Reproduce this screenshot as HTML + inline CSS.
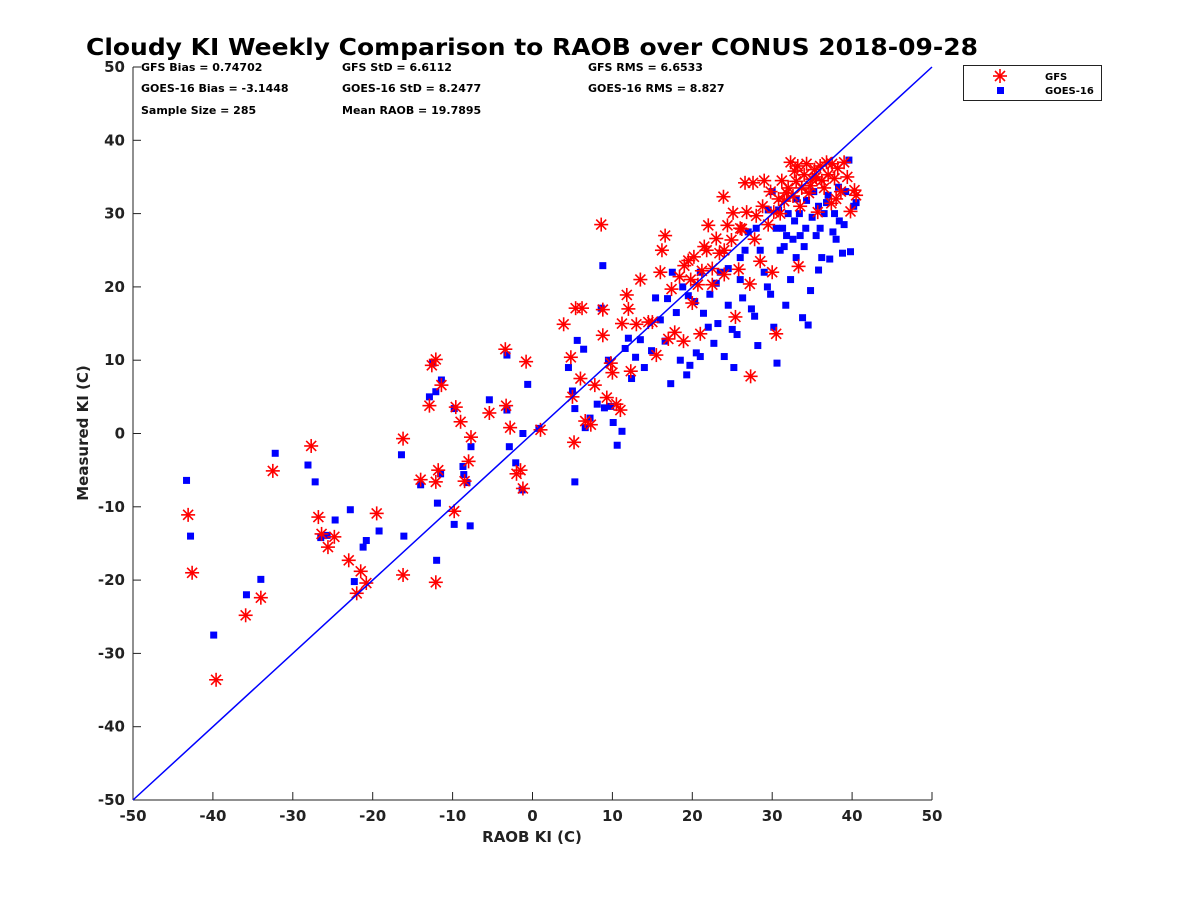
<!DOCTYPE html>
<html><head><meta charset="utf-8"><style>
body{margin:0;background:#fff}
svg{display:block;font-family:"DejaVu Sans","Liberation Sans",sans-serif}
</style></head><body>
<svg id="chart" width="1200" height="900" viewBox="0 0 1200 900">
<rect width="1200" height="900" fill="#fff"/>
<text x="532" y="55" font-size="23.5" font-weight="bold" text-anchor="middle" textLength="892" lengthAdjust="spacingAndGlyphs">Cloudy KI Weekly Comparison to RAOB over CONUS 2018-09-28</text>
<g font-size="11" font-weight="bold">
<text x="141" y="71">GFS Bias = 0.74702</text><text x="342" y="71">GFS StD = 6.6112</text><text x="588" y="71">GFS RMS = 6.6533</text>
<text x="141" y="92">GOES-16 Bias = -3.1448</text><text x="342" y="92">GOES-16 StD = 8.2477</text><text x="588" y="92">GOES-16 RMS = 8.827</text>
<text x="141" y="114">Sample Size = 285</text><text x="342" y="114">Mean RAOB = 19.7895</text>
</g>
<g id="axes"></g>
<g id="marks"></g>
<g>
<rect x="963.5" y="65.5" width="138" height="35" fill="#fff" stroke="#222"/>
<g stroke="red" stroke-width="1.6"><line x1="1000" y1="69" x2="1000" y2="83"/><line x1="993" y1="76" x2="1007" y2="76"/><line x1="995" y1="71" x2="1005" y2="81"/><line x1="995" y1="81" x2="1005" y2="71"/></g>
<rect x="997" y="87" width="7" height="7" fill="#00f"/>
<text x="1045" y="80" font-size="10" font-weight="bold">GFS</text>
<text x="1045" y="94" font-size="10" font-weight="bold">GOES-16</text>
</g>
</svg>
<script>
const xTicks=[-50,-40,-30,-20,-10,0,10,20,30,40,50];
const yTicks=[-50,-40,-30,-20,-10,0,10,20,30,40,50];
const gfs=[[-43.1,-11.1],[-42.6,-19],[-39.6,-33.6],[-35.9,-24.8],[-34,-22.4],[-32.5,-5.1],[-27.7,-1.7],[-26.8,-11.4],[-26.4,-13.7],[-25.6,-15.5],[-24.8,-14.1],[-23,-17.3],[-22,-21.8],[-21.5,-18.8],[-20.8,-20.4],[-19.5,-10.9],[-16.2,-19.3],[-16.2,-0.7],[-14,-6.3],[-12.6,9.3],[-12.1,10.1],[-12.9,3.8],[-12.1,-6.6],[-11.8,-5],[-12.1,-20.3],[-11.4,6.6],[-9.8,-10.6],[-9.6,3.6],[-9,1.6],[-8.5,-6.5],[-8,-3.8],[-7.7,-0.5],[-5.4,2.8],[-3.4,11.5],[-3.3,3.8],[-2.8,0.8],[-2,-5.5],[-1.5,-5],[-1.2,-7.5],[-0.8,9.8],[1,0.5],[3.9,14.9],[4.8,10.4],[5,5],[5.2,-1.2],[5.4,17.1],[6,7.5],[6.2,17.1],[6.6,1.7],[7.3,1.2],[7.8,6.6],[8.6,28.5],[8.8,13.4],[8.8,16.9],[9.3,4.9],[9.8,9.6],[10,8.3],[10.5,4],[11,3.2],[11.2,15],[11.8,18.9],[12,17],[12.3,8.5],[13,14.9],[13.5,21],[14.5,15.2],[15,15.2],[15.5,10.7],[16,22],[16.2,25],[16.6,27],[17,12.9],[17.4,19.7],[17.8,13.8],[18.4,21.4],[18.9,12.6],[19,22.9],[19.5,23.6],[20,17.8],[20.2,24.1],[20.7,20.3],[21,13.6],[21.2,22.2],[21.8,25],[22,28.4],[22.5,20.3],[23,26.6],[23.4,24.6],[23.9,32.3],[24,21.7],[24.4,28.4],[24.9,26.4],[25.1,30.1],[25.4,15.9],[25.8,22.4],[26.2,27.9],[26.6,34.2],[26.8,30.2],[27.2,20.4],[27.3,7.8],[27.6,34.2],[28,29.7],[28.5,23.5],[29,34.5],[29.5,28.5],[30,22],[30.5,13.6],[31,30],[31.5,31.7],[32,33.5],[32.3,37],[32.6,32.4],[33,34.4],[33.3,22.8],[33.7,33.5],[34,35.3],[34.3,36.8],[34.6,32.8],[35,34.7],[35.3,36],[35.7,30.2],[36,36.5],[36.5,33.5],[37,35.3],[37.4,31.4],[37.8,34.8],[38.2,36.2],[38.6,33],[39,37],[39.4,35],[39.8,30.3],[40.3,33.2],[40.5,32.5],[30.8,32],[31.2,34.5],[33.5,31],[35.5,35],[36.8,37],[38,32],[28.8,31],[29.8,33],[26,28],[24,25],[22.5,22.5],[21.5,25.5],[19.8,21],[27.8,26.5],[30.2,30.2],[32.8,35.8],[34.8,33.8],[36.2,34.5],[37.5,36.8],[31.8,32.8],[33.2,36.5]];
const goes=[[-43.3,-6.4],[-42.8,-14],[-39.9,-27.5],[-35.8,-22],[-34,-19.9],[-32.2,-2.7],[-28.1,-4.3],[-27.2,-6.6],[-26.5,-14.2],[-25.7,-13.9],[-24.7,-11.8],[-22.8,-10.4],[-22.3,-20.2],[-21.2,-15.5],[-20.8,-14.6],[-19.2,-13.3],[-16.4,-2.9],[-16.1,-14],[-14,-7],[-12.9,5],[-12.5,9.6],[-12.1,5.7],[-11.9,-9.5],[-12,-17.3],[-11.4,7.3],[-11.5,-5.5],[-9.8,-12.4],[-9.8,3.4],[-8.7,-4.5],[-8.6,-5.6],[-8.2,-6.7],[-7.8,-12.6],[-7.7,-1.8],[-5.4,4.6],[-3.2,10.7],[-3.2,3.2],[-2.9,-1.8],[-2.1,-4],[-1.3,-7.7],[-1.2,0],[-0.6,6.7],[0.8,0.7],[4.5,9],[5,5.8],[5.3,3.4],[5.3,-6.6],[5.6,12.7],[6.4,11.5],[6.6,0.8],[7.2,2.1],[8.1,4],[8.6,17.1],[8.8,22.9],[9,3.5],[9.5,10],[9.8,3.7],[10.1,1.5],[10.6,-1.6],[11.2,0.3],[11.6,11.6],[12,13],[12.4,7.5],[12.9,10.4],[13.5,12.8],[14,9],[14.9,11.3],[15.4,18.5],[16,15.5],[16.6,12.6],[16.9,18.4],[17.3,6.8],[17.5,22],[18,16.5],[18.5,10],[18.8,20],[19.3,8],[19.7,9.3],[20.3,18],[20.5,11],[21,10.5],[21.4,16.4],[22,14.5],[22.2,19],[22.7,12.3],[23.2,15],[23.5,22],[24,10.5],[24.5,17.5],[25,14.2],[25.2,9],[25.6,13.5],[26,21],[26.3,18.5],[26.6,25],[27,27.5],[27.4,17],[27.8,16],[28.2,12],[28.5,25],[29,22],[29.4,20],[29.8,19],[30,33],[30.2,14.5],[30.6,9.6],[31,25],[31.3,28],[31.7,17.5],[32,30],[32.3,21],[32.6,26.5],[33,24],[33.4,30],[33.8,15.8],[34.2,28],[34.5,14.8],[34.8,19.5],[35.2,33],[35.5,27],[35.8,22.3],[36.2,24],[36.5,30],[36.8,31.5],[37.2,23.8],[37.6,27.5],[38,26.5],[38.4,29],[38.8,24.6],[39.2,33],[39.6,37.3],[39.8,24.8],[40.2,31],[40.5,31.5],[30.5,28],[31.5,25.5],[32.8,29],[33.5,27],[34.3,31.8],[35,29.5],[36,28],[37,32.5],[38.3,33.6],[29.5,30.5],[28,28],[26,24],[24.5,22.5],[23,20.5],[21,22],[19.5,18.8],[30.8,30.5],[31.8,27],[33,32],[34,25.5],[35.8,31],[37.8,30],[39,28.5]];
const NS='http://www.w3.org/2000/svg';
const X0=133,X1=932,Y0=800,Y1=67;
function sx(v){return X0+(v+50)/100*(X1-X0);}
function sy(v){return Y0-(v+50)/100*(Y0-Y1);}
function mk(tag,attrs,parent){const e=document.createElementNS(NS,tag);for(const k in attrs)e.setAttribute(k,attrs[k]);parent.appendChild(e);return e;}
const axes=document.getElementById('axes'),marks=document.getElementById('marks');
const xa=mk('line',{x1:X0,y1:Y0,x2:X1,y2:Y0,stroke:'#222','stroke-width':1},axes);


const ya=mk('line',{x1:X0,y1:Y0,x2:X0,y2:Y1,stroke:'#222','stroke-width':1},axes);


xTicks.forEach(t=>{
  mk('line',{x1:sx(t),y1:Y0,x2:sx(t),y2:Y0-8,stroke:'#222'},axes);
  const tx=mk('text',{x:sx(t),y:Y0+21,'font-size':15,'font-weight':'bold','text-anchor':'middle',fill:'#222'},axes);
  tx.textContent=t;
  
  
});
yTicks.forEach(t=>{
  mk('line',{x1:X0,y1:sy(t),x2:X0+8,y2:sy(t),stroke:'#222'},axes);
  const tx=mk('text',{x:X0-8,y:sy(t)+5,'font-size':15,'font-weight':'bold','text-anchor':'end',fill:'#222'},axes);
  tx.textContent=t;
  
  
});
const xt=mk('text',{x:532,y:842,'font-size':15,'font-weight':'bold','text-anchor':'middle',fill:'#222'},axes);
xt.textContent='RAOB KI (C)';


const yt=mk('text',{x:0,y:0,'font-size':15,'font-weight':'bold','text-anchor':'middle',fill:'#222',transform:'translate(88,433) rotate(-90)'},axes);
yt.textContent='Measured KI (C)';


goes.forEach(p=>{
  const r=mk('rect',{x:sx(p[0])-3.5,y:sy(p[1])-3.5,width:7,height:7,fill:'#00f'},marks);
  
  
});
gfs.forEach(p=>{
  const cx=sx(p[0]),cy=sy(p[1]);
  const g=mk('g',{stroke:'red','stroke-width':1.6},marks);
  
  
  mk('line',{x1:cx,y1:cy-7,x2:cx,y2:cy+7},g);
  mk('line',{x1:cx-7,y1:cy,x2:cx+7,y2:cy},g);
  mk('line',{x1:cx-5,y1:cy-5,x2:cx+5,y2:cy+5},g);
  mk('line',{x1:cx-5,y1:cy+5,x2:cx+5,y2:cy-5},g);
});
const ol=mk('line',{x1:sx(-50),y1:sy(-50),x2:sx(50),y2:sy(50),stroke:'#00f','stroke-width':1.5},marks);


</script>
</body></html>
